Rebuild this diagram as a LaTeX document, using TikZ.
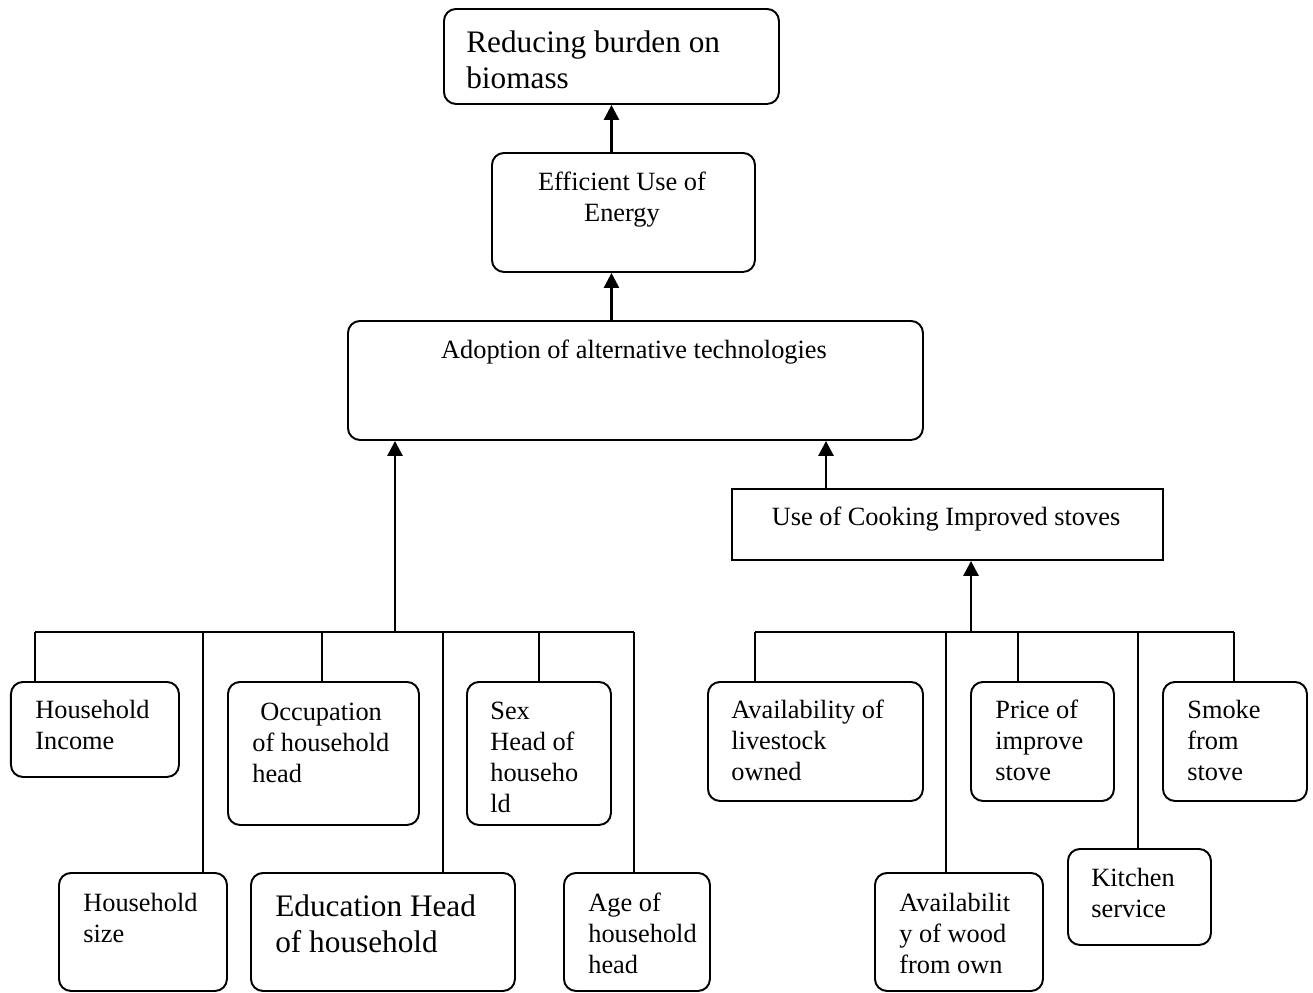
\documentclass[tikz,border=0pt]{standalone}
\usepackage{fontspec}
\setmainfont{Liberation Serif}
\usetikzlibrary{arrows.meta}

\begin{document}
\begin{tikzpicture}[
    box/.style={draw, line width=1.1pt, rounded corners=0.24cm, anchor=north west, inner sep=0pt},
    sqbox/.style={draw, line width=1.1pt, anchor=north west, inner sep=0pt},
    txt/.style={anchor=base west, align=left, inner sep=0pt, font=\fontsize{15}{17.6}\selectfont},
    bigtxt/.style={anchor=base west, align=left, inner sep=0pt, font=\fontsize{17.8}{20.4}\selectfont},
    ctxt/.style={anchor=base, align=center, inner sep=0pt, font=\fontsize{15}{17.6}\selectfont},
    wire/.style={line width=1.1pt},
    arr/.style={line width=1.5pt, -{Triangle[length=0.30cm, width=0.30cm]}}
]
    \useasboundingbox (0,0) rectangle (26.26,-19.86);

    % upper chain
    \node (goal) at (8.86,-0.16) [box, minimum width=6.70cm, minimum height=1.90cm] {};
    \node (eff) at (9.82,-3.04) [box, minimum width=5.26cm, minimum height=2.38cm] {};
    \node (adopt) at (6.94,-6.40) [box, minimum width=11.50cm, minimum height=2.38cm] {};
    \node (stove) at (14.62,-9.76) [sqbox, minimum width=8.62cm, minimum height=1.42cm] {};

    % text nodes sit on the baseline of their last line
    \node (goal-t) at (9.32,-1.76) [bigtxt] {Reducing burden on\\biomass};
    \node (eff-t) at (12.44,-4.42) [ctxt] {Efficient Use of\\Energy};
    \node (adopt-t) at (12.68,-7.16) [ctxt] {Adoption of alternative technologies};
    \node (stove-t) at (18.92,-10.50) [ctxt] {Use of Cooking Improved stoves};

    % household factors
    \node (inc) at (0.20,-13.62) [box, minimum width=3.36cm, minimum height=1.90cm] {};
    \node (occ) at (4.54,-13.62) [box, minimum width=3.82cm, minimum height=2.86cm] {};
    \node (sex) at (9.32,-13.62) [box, minimum width=2.88cm, minimum height=2.86cm] {};
    \node (size) at (1.16,-17.44) [box, minimum width=3.36cm, minimum height=2.36cm] {};
    \node (edu) at (5.00,-17.44) [box, minimum width=5.28cm, minimum height=2.36cm] {};
    \node (age) at (11.26,-17.44) [box, minimum width=2.92cm, minimum height=2.36cm] {};

    \node (inc-t) at (0.70,-14.98) [txt] {Household\\Income};
    \node (occ-t) at (5.04,-15.64) [txt] {\hspace{0.16cm}Occupation\\of household\\head};
    \node (sex-t) at (9.80,-16.24) [txt] {Sex\\Head of\\househo\\ld};
    \node (size-t) at (1.66,-18.84) [txt] {Household\\size};
    \node (edu-t) at (5.50,-19.04) [bigtxt] {Education Head\\of household};
    \node (age-t) at (11.76,-19.46) [txt] {Age of\\household\\head};

    % stove factors
    \node (live) at (14.14,-13.62) [box, minimum width=4.30cm, minimum height=2.38cm] {};
    \node (price) at (19.40,-13.62) [box, minimum width=2.86cm, minimum height=2.38cm] {};
    \node (smoke) at (23.24,-13.62) [box, minimum width=2.88cm, minimum height=2.38cm] {};
    \node (wood) at (17.48,-17.44) [box, minimum width=3.36cm, minimum height=2.36cm] {};
    \node (kit) at (21.34,-16.96) [box, minimum width=2.86cm, minimum height=1.92cm] {};

    \node (live-t) at (14.62,-15.60) [txt] {Availability of\\livestock\\owned};
    \node (price-t) at (19.90,-15.60) [txt] {Price of\\improve\\stove};
    \node (smoke-t) at (23.74,-15.60) [txt] {Smoke\\from\\stove};
    \node (wood-t) at (17.98,-19.46) [txt] {Availabilit\\y of wood\\from own};
    \node (kit-t) at (21.82,-18.34) [txt] {Kitchen\\service};

    % buses
    \coordinate (lbus) at (7.90,-12.64);
    \coordinate (l1) at (0.70,-12.64);
    \coordinate (l2) at (4.06,-12.64);
    \coordinate (l3) at (6.44,-12.64);
    \coordinate (l4) at (8.86,-12.64);
    \coordinate (l5) at (10.78,-12.64);
    \coordinate (l6) at (12.68,-12.64);
    \coordinate (rbus) at (19.42,-12.64);
    \coordinate (r1) at (15.10,-12.64);
    \coordinate (r2) at (18.92,-12.64);
    \coordinate (r3) at (20.36,-12.64);
    \coordinate (r4) at (22.76,-12.64);
    \coordinate (r5) at (24.68,-12.64);
    \coordinate (ain) at (16.52,-9.76);

    \draw[wire] (l1) -- (l6) (r1) -- (r5);
    \draw[wire] (l1) -- (l1 |- inc.north) (l2) -- (l2 |- size.north) (l3) -- (l3 |- occ.north)
                (l4) -- (l4 |- edu.north) (l5) -- (l5 |- sex.north) (l6) -- (l6 |- age.north);
    \draw[wire] (r1) -- (r1 |- live.north) (r2) -- (r2 |- wood.north) (r3) -- (r3 |- price.north)
                (r4) -- (r4 |- kit.north) (r5) -- (r5 |- smoke.north);

    % arrows
    \draw[arr] (lbus) -- (lbus |- adopt.south);
    \draw[arr] (rbus) -- (rbus |- stove.south);
    \draw[arr] (ain) -- (ain |- adopt.south);
    \draw[arr] (goal.south |- adopt.north) -- (goal.south |- eff.south);
    \draw[arr] (goal.south |- eff.north) -- (goal.south);
\end{tikzpicture}
\end{document}
